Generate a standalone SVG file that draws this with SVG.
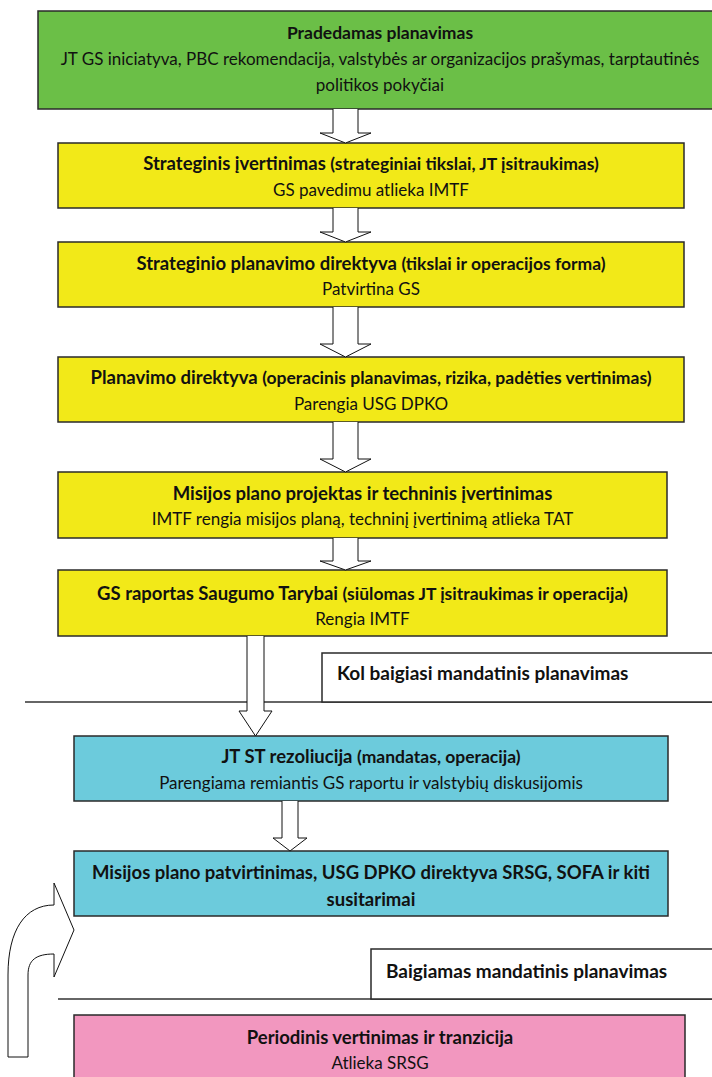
<svg xmlns="http://www.w3.org/2000/svg" width="712" height="1077" viewBox="0 0 712 1077">
<style>
text{font-family:Lato,"Liberation Sans",sans-serif;fill:#111;text-anchor:middle}
.box{stroke:#2a2a2a;stroke-width:1.5}
.g{fill:#6bbf47}.y{fill:#f2e918}.c{fill:#6ccbdc}.p{fill:#f297bf}.w{fill:#fff}
.t{font-weight:bold;font-size:18.5px}
.ts{font-weight:bold;font-size:17.5px}
.s{font-size:17px}
.lbl{font-weight:bold;font-size:19px;text-anchor:start}
.arr{fill:#fff;stroke:#111;stroke-width:1}
.ln{stroke:#333;stroke-width:1.5}
</style>
<rect width="712" height="1077" fill="#fff"/>
<g id="separators">
<line class="ln" x1="25" y1="702" x2="712" y2="702"/>
<line class="ln" x1="58" y1="999" x2="712" y2="999"/>
</g>
<g id="n-start">
<rect class="box g" x="38" y="11" width="690" height="98"/>
<text class="t" x="380" y="39" style="font-size:17.5px">Pradedamas planavimas</text>
<text class="s" x="380" y="65">JT GS iniciatyva, PBC rekomendacija, valstybės ar organizacijos prašymas, tarptautinės</text>
<text class="s" x="380" y="91">politikos pokyčiai</text>
</g>
<g id="n-strat">
<rect class="box y" x="58" y="143" width="626" height="65"/>
<text x="371" y="170"><tspan class="t">Strateginis įvertinimas </tspan><tspan class="ts">(strateginiai tikslai, JT įsitraukimas)</tspan></text>
<text class="s" x="371" y="196">GS pavedimu atlieka IMTF</text>
</g>
<g id="n-spd">
<rect class="box y" x="58" y="242" width="626" height="65"/>
<text x="371" y="270"><tspan class="t">Strateginio planavimo direktyva </tspan><tspan class="ts">(tikslai ir operacijos forma)</tspan></text>
<text class="s" x="371" y="295">Patvirtina GS</text>
</g>
<g id="n-pd">
<rect class="box y" x="58" y="357" width="626" height="65"/>
<text x="371" y="384"><tspan class="t">Planavimo direktyva </tspan><tspan class="ts">(operacinis planavimas, rizika, padėties vertinimas)</tspan></text>
<text class="s" x="371" y="410">Parengia USG DPKO</text>
</g>
<g id="n-mpp">
<rect class="box y" x="58" y="472" width="609" height="66"/>
<text class="t" x="362.5" y="500">Misijos plano projektas ir techninis įvertinimas</text>
<text class="s" x="362.5" y="525">IMTF rengia misijos planą, techninį įvertinimą atlieka TAT</text>
</g>
<g id="n-gsr">
<rect class="box y" x="58" y="570" width="609" height="66"/>
<text x="362.5" y="600"><tspan class="t">GS raportas Saugumo Tarybai </tspan><tspan class="ts">(siūlomas JT įsitraukimas ir operacija)</tspan></text>
<text class="s" x="362.5" y="625">Rengia IMTF</text>
</g>
<g id="n-kol">
<rect class="box w" x="322" y="653" width="400" height="49"/>
<text class="lbl" x="337" y="680">Kol baigiasi mandatinis planavimas</text>
</g>
<g id="n-res">
<rect class="box c" x="74" y="736" width="594" height="65"/>
<text x="371" y="763"><tspan class="t">JT ST rezoliucija </tspan><tspan class="ts">(mandatas, operacija)</tspan></text>
<text class="s" x="371" y="789">Parengiama remiantis GS raportu ir valstybių diskusijomis</text>
</g>
<g id="n-mpa">
<rect class="box c" x="74" y="851" width="594" height="65"/>
<text class="t" x="371" y="879">Misijos plano patvirtinimas, USG DPKO direktyva SRSG, SOFA ir kiti</text>
<text class="t" x="371" y="906">susitarimai</text>
</g>
<g id="n-baig">
<rect class="box w" x="371" y="949" width="350" height="50"/>
<text class="lbl" x="386" y="978">Baigiamas mandatinis planavimas</text>
</g>
<g id="n-per">
<rect class="box p" x="74" y="1015" width="611" height="70"/>
<text class="t" x="380" y="1044">Periodinis vertinimas ir tranzicija</text>
<text class="s" x="380" y="1069">Atlieka SRSG</text>
</g>
<g id="connectors">
<path class="arr" d="M333,109 V133 H320 L345.5,143 L371,133 H358 V109"/>
<path class="arr" d="M333,208 V232 H320 L345.5,242 L371,232 H358 V208"/>
<path class="arr" d="M333,307 V344 H320 L345.5,357 L371,344 H358 V307"/>
<path class="arr" d="M333,422 V459 H320 L345.5,472 L371,459 H358 V422"/>
<path class="arr" d="M333,538 V561 H320 L345.5,570 L371,561 H358 V538"/>
<path class="arr" d="M247,636 V711 H239 L255.5,736 L272,711 H264 V636"/>
<path class="arr" d="M282,801 V838 H273 L290,851 L307,838 H298 V801"/>
<path class="arr" d="M8,1057 V975 C8,930 25,905 54,905 V883 L74,930 L54,977 V954 C36,954 28,960 28,975 V1057 Z"/>
</g>
</svg>
